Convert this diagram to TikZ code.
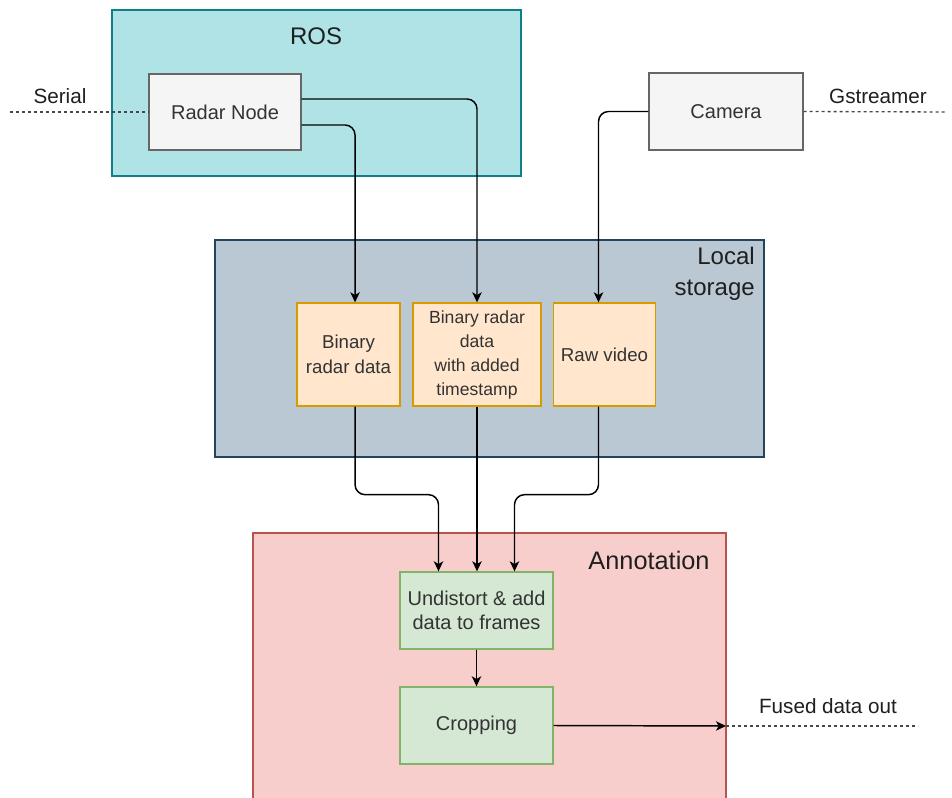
\documentclass[tikz,border=0pt]{standalone}
\usepackage{fontspec}
\setmainfont{Liberation Sans}
\usetikzlibrary{arrows.meta}
\definecolor{rosF}{HTML}{B0E3E6}
\definecolor{rosD}{HTML}{0E8088}
\definecolor{greyF}{HTML}{F5F5F5}
\definecolor{greyD}{HTML}{666666}
\definecolor{txtG}{HTML}{333333}
\definecolor{lsF}{HTML}{BAC8D3}
\definecolor{lsD}{HTML}{23445D}
\definecolor{orF}{HTML}{FFE6CC}
\definecolor{orD}{HTML}{D79B00}
\definecolor{anF}{HTML}{F8CECC}
\definecolor{anD}{HTML}{B85450}
\definecolor{grF}{HTML}{D5E8D4}
\definecolor{grD}{HTML}{82B366}
\definecolor{lblC}{HTML}{1F1F1F}
\begin{document}
\begin{tikzpicture}[x=0.75pt,y=-0.75pt,
  box/.style={draw, line width=1pt, inner sep=0pt, align=center},
  grp/.style={box},
  greybox/.style={box, fill=greyF, draw=greyD, text=txtG, font=\fontsize{15pt}{18pt}\selectfont},
  orbox/.style={box, fill=orF, draw=orD, text=txtG, minimum height=77.25pt},
  grbox/.style={box, fill=grF, draw=grD, text=txtG, minimum width=114.75pt, minimum height=57.75pt, font=\fontsize{15pt}{18pt}\selectfont},
  grptext/.style={text=lblC, inner sep=0pt, font=\fontsize{18pt}{23pt}\selectfont},
  lbl/.style={text=lblC, inner sep=0pt, font=\fontsize{15.5pt}{18pt}\selectfont},
  conn/.style={line width=1.1pt, rounded corners=7.5pt, -{Stealth[length=7.5pt,width=7pt,inset=2pt]}},
  ext/.style={line width=1pt, draw=greyD!70!black, dash pattern=on 2.25pt off 2.25pt}
]
\clip (0,0) rectangle (952,798);
\fill[white] (0,0) rectangle (952,798);

% ROS group
\node[grp, fill=rosF, draw=rosD, minimum width=306.75pt, minimum height=124.5pt] (ros) at (316.5,93) {};
\node[grptext] (roslbl) at (316,36) {ROS};
\node[greybox, minimum width=114pt, minimum height=57pt] (rn) at (225,112) {Radar Node};
\node[greybox, minimum width=115.5pt, minimum height=57.75pt] (cam) at (726,111.5) {Camera};

% Local storage
\node[grp, fill=lsF, draw=lsD, minimum width=411.75pt, minimum height=162.75pt] (ls) at (489.5,348.5) {};
\node[grptext, anchor=east, align=right] (lslbl) at (755,273.5) {Local\\storage};
\node[orbox, minimum width=77.25pt, font=\fontsize{14pt}{18.5pt}\selectfont] (bin) at (348.5,354.5) {Binary\\radar data};
\node[orbox, minimum width=96pt, font=\fontsize{13.2pt}{18pt}\selectfont] (mid) at (477,354.5) {Binary radar\\data\\with added\\timestamp};
\node[orbox, minimum width=76.5pt, font=\fontsize{14pt}{18pt}\selectfont] (raw) at (604.5,354.5) {Raw video};

% Annotation
\node[grp, fill=anF, draw=anD, minimum width=354.75pt, minimum height=207.75pt] (ann) at (489.5,671.5) {};
\node[grptext, font=\fontsize{19pt}{23pt}\selectfont] (annlbl) at (649,560) {Annotation};
\node[grbox] (und) at (476.5,610.5) {Undistort \& add\\data to frames};
\node[grbox] (crop) at (476.5,725.5) {Cropping};

% external labels and lines
\coordinate (serstart) at (10,112);
\coordinate (gstend) at (945,112);
\coordinate (out) at (726,726);
\coordinate (fusedend) at (918,726);
\node[lbl] (serlbl) at (60,96) {Serial};
\node[lbl] (gstlbl) at (878,96) {Gstreamer};
\node[lbl] (fusedlbl) at (828,706) {Fused data out};
\draw[ext] (serstart) -- (rn.west);
\draw[ext] (cam.east) -- (gstend);
\draw[ext] (out) -- (fusedend);

% connectors
\draw[conn] ([yshift=9.75pt]rn.east) -| (mid.north);
\draw[conn] ([yshift=-9.75pt]rn.east) -| ([xshift=4.9pt]bin.north);
\draw[conn] (cam.west) -| ([xshift=-4.5pt]raw.north);
\draw[conn] ([xshift=4.9pt]bin.south) -- ++(0,88) -| ([xshift=-28.5pt]und.north);
\draw[conn] (mid.south) -- (mid.south |- und.north);
\draw[conn] ([xshift=-4.5pt]raw.south) -- ++(0,88) -| ([xshift=28.5pt]und.north);
\draw[conn] (und.south) -- (crop.north);
\draw[conn] (crop.east) -- (out);
\end{tikzpicture}
\end{document}
